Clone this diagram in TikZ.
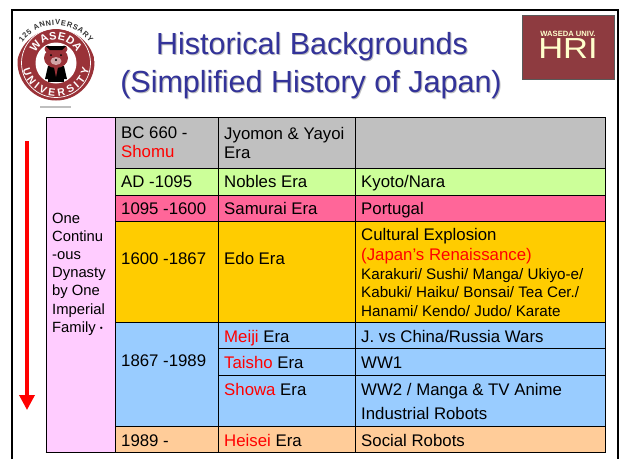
\documentclass[tikz,border=0pt]{standalone}
\usepackage{fontspec}
\setmainfont{Liberation Sans}
\newfontfamily\jpfont{Noto Sans CJK JP}
\usetikzlibrary{decorations.text,arrows.meta}
\definecolor{cpink}{HTML}{FFCCFF}
\definecolor{cgray}{HTML}{C0C0C0}
\definecolor{cgreen}{HTML}{CCFF99}
\definecolor{crose}{HTML}{FF6699}
\definecolor{cgold}{HTML}{FFCC00}
\definecolor{cblue}{HTML}{99CCFF}
\definecolor{corange}{HTML}{FFCC99}
\definecolor{ctitle}{HTML}{333399}
\definecolor{cmaroon}{HTML}{8E3B40}
\definecolor{ccream}{HTML}{FFFFCC}
\definecolor{cseal}{HTML}{9A3238}
\newcommand{\R}[1]{\textcolor{red}{#1}}
\tikzset{
  cellbox/.style={draw=black,line width=0.9pt},
  cell/.style={anchor=base west,inner sep=0pt,font=\fontsize{16.8}{19}\selectfont},
  cellm/.style={anchor=west,inner sep=0pt,font=\fontsize{16.8}{19}\selectfont,align=left},
  small/.style={anchor=base west,inner sep=0pt,font=\fontsize{15.2}{17}\selectfont},
  titletext/.style={font=\fontsize{30.5}{35}\selectfont,inner sep=0pt},
}
\begin{document}
\begin{tikzpicture}[x=1pt,y=-1pt]
\useasboundingbox (0,0) rectangle (620,459);
\fill[white] (0,0) rectangle (620,459);
% slide frame
\draw[black,line width=2pt] (11.5,459) -- (11.5,9.5) -- (617.5,9.5) -- (617.5,459);
% title
\node[titletext,text=black!25] at (313,48) {Historical Backgrounds};
\node[titletext,text=black!25] at (312,86) {(Simplified History of Japan)};
\node[titletext,text=ctitle] (t1) at (312,47) {Historical Backgrounds};
\node[titletext,text=ctitle] (t2) at (311,85) {(Simplified History of Japan)};
% seal
\begin{scope}[shift={(56,62)},x=1pt,y=1pt]
\begin{scope}
\clip (0,-6.5) circle (39.5);
\fill[cseal] (0,0) circle (38.5);
\end{scope}
\draw[white,line width=0.7pt] (0,-1) circle (34.5);
\fill[white] (0,-1) circle (20.5);
\path[postaction={decorate,decoration={text along path,text align={fit to path},text={|\fontsize{7.5}{8}\bfseries\color{black!80}|125 ANNIVERSARY}}}]
  ([shift={(0,-4)}]145:41) arc (145:35:41);
\path[postaction={decorate,decoration={text along path,text align={fit to path},text={|\fontsize{11}{12}\bfseries\color{white}|WASEDA}}}]
  (155:22.5) arc (155:25:22.5);
\path[postaction={decorate,decoration={text along path,text align={fit to path},text={|\fontsize{10.5}{12}\bfseries\color{white}|UNIVERSITY}}}]
  (192:34) arc (192:348:34);
% bear
\fill[black] (-8,-20) rectangle (8,-4);
\fill[black] (-11,-17) -- (-8,-4) -- (-8,-17) -- cycle (11,-17) -- (8,-4) -- (8,-17) -- cycle;
\fill[cseal] (-8,13) circle (3.5) (8,13) circle (3.5);
\fill[cseal] (0,4) ellipse (12 and 10);
\fill[black] (-10,16) -- (10,16) -- (6,12) -- (-6,12) -- cycle;
\fill[cseal!45!white] (0,1) ellipse (5.5 and 4);
\fill[black] (-5,7) circle (1) (5,7) circle (1) (0,2) circle (1.2);
\fill[cseal] (-2,-5) -- (2,-5) -- (0,-15) -- cycle;
\end{scope}
\fill[black!25] (40,105.5) rectangle (71,107.5);
% HRI
\node[draw=black!65,fill=cmaroon,minimum width=92pt,minimum height=64pt,inner sep=0pt,line width=0.8pt] (hri) at (568,47) {};
\node[inner sep=0pt,text=ccream,font=\fontsize{7.6}{8}\bfseries\selectfont] (hri1) at (568,34) {WASEDA UNIV.};
\node[inner sep=0pt,text=ccream,font=\fontsize{29}{29}\selectfont,xscale=1.19,transform shape] (hri2) at (568,49) {HRI};
% arrow
\coordinate (as) at (27,141);
\coordinate (ae) at (27,410);
\draw[red,line width=3.4pt,-{Triangle[length=15pt,width=15pt]}] (as) -- (ae);
% table cells
\fill[cpink] (46,117) rectangle (115,452);
\fill[cgray] (115,117) rectangle (605,168);
\fill[cgreen] (115,168) rectangle (605,195);
\fill[crose] (115,195) rectangle (605,221);
\fill[cgold] (115,221) rectangle (605,322);
\fill[cblue] (115,322) rectangle (605,426);
\fill[corange] (115,426) rectangle (605,452);
\draw[cellbox] (46,117) rectangle (605,452);
\draw[cellbox] (115,117) -- (115,452) (218,117) -- (218,452) (355,117) -- (355,452);
\draw[cellbox] (115,168) -- (605,168) (115,195) -- (605,195) (115,221) -- (605,221) (115,322) -- (605,322);
\draw[cellbox] (218,348.5) -- (605,348.5) (218,375) -- (605,375) (115,426) -- (605,426);
\draw[black,line width=1.6pt] (45.5,452.5) -- (605,452.5);
% column 1
\node[cellm,anchor=north west,font=\fontsize{14.8}{18.2}\selectfont] (dyn) at (52,212.5) {One\\Continu\\-ous\\Dynasty\\by One\\Imperial\\Family{\jpfont\fontsize{11}{18.2}\selectfont ・}};
% rows
\node[cellm] (a1) at (121,142.5) {BC 660 -\\\R{Shomu}};
\node[cellm] (b1) at (224,142.5) {Jyomon \& Yayoi\\Era};
\node[cell] (a2) at (121,187) {AD -1095};
\node[cell] (b2) at (224,187) {Nobles Era};
\node[cell] (c2) at (361,187) {Kyoto/Nara};
\node[cell] (a3) at (121,214) {1095 -1600};
\node[cell] (b3) at (224,214) {Samurai Era};
\node[cell] (c3) at (361,214) {Portugal};
\node[cell] (a4) at (121,264) {1600 -1867};
\node[cell] (b4) at (224,264) {Edo Era};
\node[cell] (c4a) at (361,240.5) {Cultural Explosion};
\node[cell] (c4b) at (361,260) {\R{(Japan’s Renaissance)}};
\node[small] (c4c) at (361,279) {Karakuri/ Sushi/ Manga/ Ukiyo-e/};
\node[small] (c4d) at (361,297) {Kabuki/ Haiku/ Bonsai/ Tea Cer./};
\node[small] (c4e) at (361,316) {Hanami/ Kendo/ Judo/ Karate};
\node[cell] (a5) at (121,366) {1867 -1989};
\node[cell] (b5) at (224,342) {\R{Meiji} Era};
\node[cell] (c5) at (361,342) {J. vs China/Russia Wars};
\node[cell] (b6) at (224,368) {\R{Taisho} Era};
\node[cell] (c6) at (361,368) {WW1};
\node[cell] (b7) at (224,395) {\R{Showa} Era};
\node[cell] (c7a) at (361,395) {WW2 / Manga \& TV Anime};
\node[cell] (c7b) at (361,419) {Industrial Robots};
\node[cell] (a8) at (121,446) {1989 -};
\node[cell] (b8) at (224,446) {\R{Heisei} Era};
\node[cell] (c8) at (361,446) {Social Robots};
\end{tikzpicture}
\end{document}
